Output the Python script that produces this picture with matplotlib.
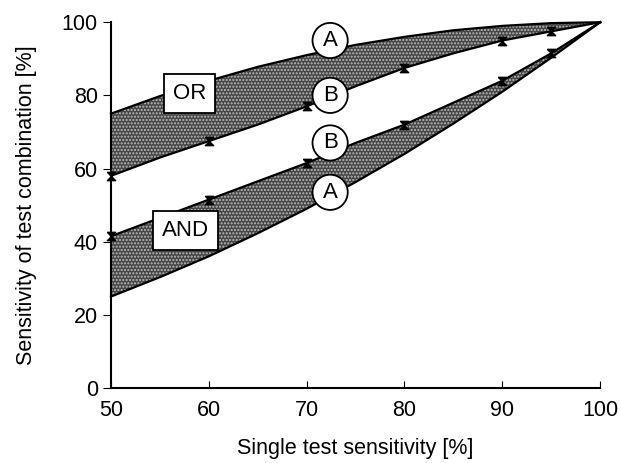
import matplotlib
matplotlib.use("Agg")
import matplotlib.pyplot as plt

plt.rcParams['font.family'] = ['Liberation Sans', 'DejaVu Sans']
plt.rcParams['hatch.color'] = '#bdbdbd'

# single test sensitivity [%]
x = [50, 55, 60, 65, 70, 75, 80, 85, 90, 95, 100]

# OR combination: A = upper bound, B = lower bound
or_a = [75, 79.8, 84, 87.8, 91, 93.8, 96, 97.8, 99, 99.75, 100]
or_b = [58, 63, 67.5, 72, 77, 82.5, 87.5, 91.5, 95, 97.5, 100]

# AND combination: B = upper bound, A = lower bound
and_b = [41.5, 46.5, 51.5, 56.5, 61.5, 67, 72, 78, 84, 91.5, 100]
and_a = [25, 30.3, 36, 42.3, 49, 56.3, 64, 72.3, 81, 90.3, 100]

# measured points (markers on the B lines)
pts_x = [50, 60, 70, 80, 90, 95]
or_pts = [58, 67.5, 77, 87.5, 95, 97.5]
and_pts = [41.5, 51.5, 61.5, 72, 84, 91.5]

fig = plt.figure(figsize=(6.2, 4.63), dpi=100)
ax = fig.add_axes([0.179, 0.162, 0.789, 0.790])

band = dict(facecolor='#464646', edgecolor='none', hatch='.....')
ax.fill_between(x, or_b, or_a, **band)
ax.fill_between(x, and_a, and_b, **band)
for y in (or_a, or_b, and_a, and_b):
    ax.plot(x, y, color='black', lw=1.6, clip_on=False)

hourglass = [(-1, 1), (1, 1), (-1, -1), (1, -1), (-1, 1)]
ax.plot(pts_x, or_pts, ls='none', marker=hourglass, ms=6, color='black', clip_on=False)
ax.plot(pts_x, and_pts, ls='none', marker=hourglass, ms=6, color='black', clip_on=False)

circ = dict(boxstyle='circle,pad=0.32', fc='white', ec='black', lw=1.3)
for lx, ly, s in [(72.4, 95, 'A'), (72.4, 80, 'B'), (72.4, 67, 'B'), (72.4, 53.5, 'A')]:
    ax.text(lx, ly, s, fontsize=16, ha='center', va='center', bbox=circ)

rect = dict(boxstyle='square,pad=0.4', fc='white', ec='black', lw=1.3)
ax.text(58.0, 80.5, 'OR', fontsize=16, ha='center', va='center', bbox=rect)
ax.text(57.6, 43, 'AND', fontsize=16, ha='center', va='center', bbox=rect)

ax.set_xlim(50, 100)
ax.set_ylim(0, 100)
ax.set_xticks([50, 60, 70, 80, 90, 100])
ax.set_yticks([0, 20, 40, 60, 80, 100])
ax.tick_params(axis='x', direction='in', length=5, labelsize=15.5, pad=9)
ax.tick_params(axis='y', direction='out', length=6, labelsize=15.5)
for side in ('top', 'right'):
    ax.spines[side].set_visible(False)
ax.spines['left'].set_linewidth(1.5)
ax.spines['bottom'].set_linewidth(1.5)

ax.set_xlabel('Single test sensitivity [%]', fontsize=15.5, labelpad=12)
ax.set_ylabel('Sensitivity of test combination [%]', fontsize=15.5, labelpad=18)

fig.savefig('out.png', dpi=100)
